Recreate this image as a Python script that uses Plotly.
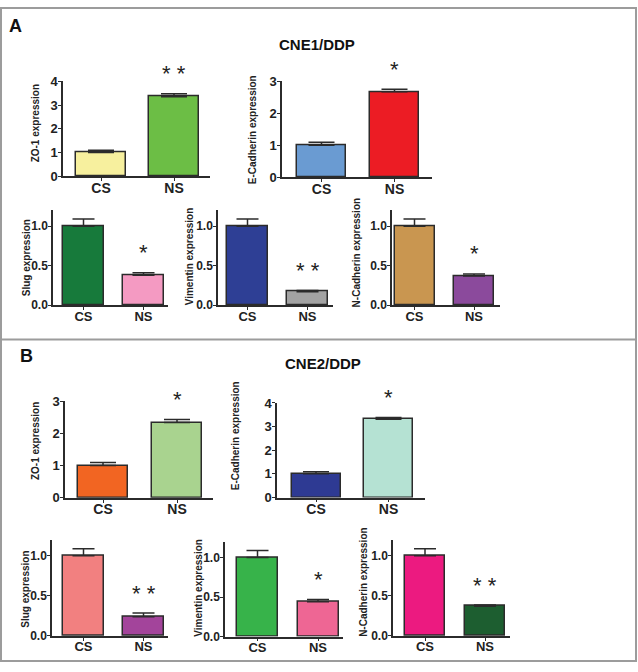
import plotly.graph_objects as go

W, H = 638, 672

# ---------------- data ----------------
groups = ["CS", "NS"]
markers = ["ZO-1", "E-Cadherin", "Slug", "Vimentin", "N-Cadherin"]
ytitles = ["ZO-1 expression", "E-Cadherin expression", "Slug expression",
           "Vimentin expression", "N-Cadherin expression"]
panel_titles = ["CNE1/DDP", "CNE2/DDP"]
panel_letters = ["A", "B"]

cne1_cs = [1.00, 1.00, 1.00, 1.00, 1.00]
cne1_ns = [3.35, 2.67, 0.38, 0.17, 0.37]
cne1_cs_err = [0.09, 0.09, 0.09, 0.09, 0.09]
cne1_ns_err = [0.12, 0.08, 0.03, 0.015, 0.025]
cne1_sig = ["* *", "*", "*", "* *", "*"]

cne2_cs = [1.00, 1.00, 1.00, 1.00, 1.00]
cne2_ns = [2.33, 3.31, 0.24, 0.44, 0.37]
cne2_cs_err = [0.09, 0.09, 0.09, 0.09, 0.09]
cne2_ns_err = [0.10, 0.08, 0.045, 0.03, 0.015]
cne2_sig = ["*", "*", "* *", "*", "* *"]

yticks_row1 = [[0, 1, 2, 3, 4], [0, 1, 2, 3]]
yticks_row2 = [0.0, 0.5, 1.0]

cne1_colors = [("#F7F09E", "#6CBE45"), ("#6A9BD2", "#EC1C24"), ("#177A3B", "#F49AC2"),
               ("#2E3F95", "#A3A3A3"), ("#C99650", "#8B4A9C")]
cne2_colors = [("#F26522", "#A9D38F"), ("#2E3A93", "#B5E2D3"), ("#F28080", "#A3449B"),
               ("#37B34A", "#EE6694"), ("#EC1A80", "#1D5E30")]

# ---------------- layout geometry (pixels) ----------------
# (x_axis_left, x_axis_right, cs_center, ns_center, bar_w, y_zero, y_top, ymax, ytitle_x, ytitle_y, cap)
geomA = [
    (63, 210, 101, 174, 50, 173, 76, 4, 35, 119, 13),
    (282, 432, 321.5, 394.5, 49, 174, 76, 3, 252, 126, 13),
    (53, 168, 83.5, 143.5, 41, 305, 208, 1.2, 26, 257, 11),
    (218, 333, 247.5, 307.5, 41, 305, 208, 1.2, 189, 255, 11),
    (392, 500, 414.5, 474, 40, 305, 208, 1.2, 356, 252, 11),
]
geomB = [
    (65, 213, 103, 177, 50, 502, 403, 3, 35, 444, 13),
    (277, 425, 316, 388.5, 49, 501.7, 405, 4, 235, 439, 13),
    (52, 168, 83.5, 143.5, 41, 643.3, 545, 1.2, 26, 596, 11),
    (225, 343, 257.5, 318, 41, 644, 547, 1.2, 199, 594, 11),
    (393, 510, 425, 485, 40, 643.3, 545, 1.2, 364, 589, 11),
]
title_pos = [(317, 38), (323, 365)]
letter_pos = [(15, 19), (26, 357)]

FONT = "Liberation Sans, Arial, sans-serif"
AX = "#2b2b2b"

fig = go.Figure()
annotations = []
layout_axes = {}

panels = [
    (cne1_cs, cne1_ns, cne1_cs_err, cne1_ns_err, cne1_sig, cne1_colors, geomA, yticks_row1[0], yticks_row1[1]),
    (cne2_cs, cne2_ns, cne2_cs_err, cne2_ns_err, cne2_sig, cne2_colors, geomB, yticks_row1[1], yticks_row1[0]),
]

k = 0
for p, (cs, ns, cse, nse, sig, cols, geom, t0, t1) in enumerate(panels):
    for i in range(5):
        k += 1
        xl, xr, ccs, cns, bw, yz, yt, ymax, tx, ty, cap = geom[i]
        s = cns - ccs
        xname = "x" if k == 1 else f"x{k}"
        yname = "y" if k == 1 else f"y{k}"
        fig.add_trace(go.Bar(
            x=groups, y=[cs[i], ns[i]],
            width=bw / s,
            marker=dict(color=list(cols[i]), line=dict(color=AX, width=1.5)),
            error_y=dict(type="data", symmetric=False, array=[cse[i], nse[i]],
                         arrayminus=[0, 0], color=AX, thickness=1.5, width=cap),
            xaxis=xname, yaxis=yname, showlegend=False, hoverinfo="skip",
        ))
        if i < 2:
            tickvals = t0 if i == 0 else t1
            tickvals = [v for v in tickvals if v <= ymax]
            tickfmt = "d"
            tfs, xfs = 13, 14
        else:
            tickvals = yticks_row2
            tickfmt = ".1f"
            tfs, xfs = 12, 13
        xa = dict(domain=[xl / W, xr / W], range=[-(ccs - xl) / s, 1 + (xr - cns) / s],
                  anchor=yname, type="category", showline=True, linecolor=AX, linewidth=1.5,
                  ticks="outside", ticklen=3, tickcolor=AX, tickwidth=1.2,
                  showgrid=False, zeroline=False, fixedrange=True, ticklabelstandoff=-5,
                  tickfont=dict(family=FONT, size=xfs, color="#222", weight="bold"))
        ya = dict(domain=[1 - yz / H, 1 - yt / H], range=[0, ymax], anchor=xname,
                  showline=True, linecolor=AX, linewidth=1.5, ticks="outside", ticklen=3,
                  tickcolor=AX, tickwidth=1.2, tickvals=tickvals, tickformat=tickfmt,
                  showgrid=False, zeroline=False, fixedrange=True, ticklabelstandoff=-2,
                  tickfont=dict(family=FONT, size=tfs, color="#222", weight="bold"))
        layout_axes["xaxis" if k == 1 else f"xaxis{k}"] = xa
        layout_axes["yaxis" if k == 1 else f"yaxis{k}"] = ya
        # significance stars
        annotations.append(dict(x="NS", y=ns[i] + nse[i], xref=xname, yref=yname,
                                text=sig[i], showarrow=False, yanchor="middle", yshift=20,
                                font=dict(family=FONT, size=22, color="#222")))
        # y axis title
        annotations.append(dict(x=tx / W, y=1 - ty / H, xref="paper", yref="paper",
                                text=ytitles[i], textangle=-90, showarrow=False,
                                xanchor="center", yanchor="middle",
                                font=dict(family=FONT, size=10, color="#222", weight="bold")))
    annotations.append(dict(x=title_pos[p][0] / W, y=1 - title_pos[p][1] / H, xref="paper", yref="paper",
                            text=panel_titles[p], showarrow=False, xanchor="center", yanchor="middle",
                            font=dict(family=FONT, size=15, color="#111", weight="bold")))
    annotations.append(dict(x=letter_pos[p][0] / W, y=1 - letter_pos[p][1] / H, xref="paper", yref="paper",
                            text=panel_letters[p], showarrow=False, xanchor="center", yanchor="middle",
                            font=dict(family=FONT, size=18, color="#111", weight="bold")))

shapes = [
    dict(type="rect", xref="paper", yref="paper", x0=1 / W, x1=636 / W, y0=1 - 669 / H, y1=1 - 1 / H,
         line=dict(color="#9c9c9c", width=2)),
    dict(type="line", xref="paper", yref="paper", x0=1 / W, x1=636 / W, y0=1 - 340 / H, y1=1 - 340 / H,
         line=dict(color="#9c9c9c", width=2)),
]

fig.update_layout(width=W, height=H, margin=dict(l=0, r=0, t=0, b=0),
                  paper_bgcolor="white", plot_bgcolor="white",
                  annotations=annotations, shapes=shapes, bargap=0, **layout_axes)

fig.write_html("out.html", config={"displayModeBar": False},
               post_script="document.body.style.margin='0';document.body.style.overflow='hidden';")
